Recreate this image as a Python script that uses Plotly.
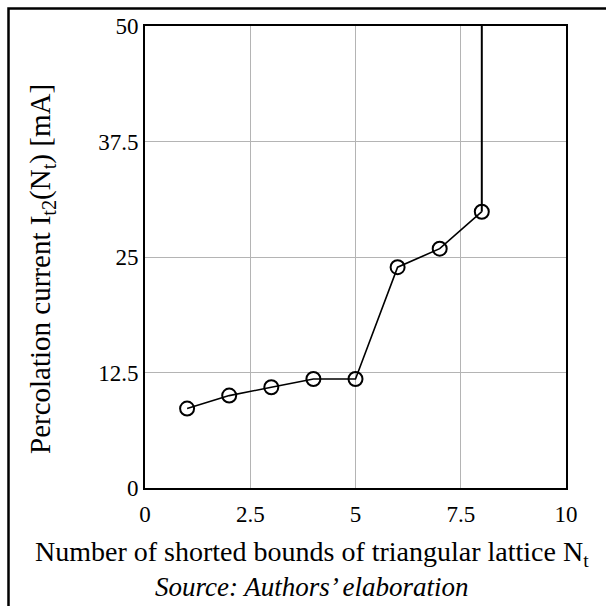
import plotly.graph_objects as go

# Data
n_t = [1, 2, 3, 4, 5, 6, 7, 8]
current_ma = [8.6, 10.0, 10.9, 11.8, 11.8, 23.9, 25.9, 29.9]
# vertical divergence at N_t = 8
asym_x = [8, 8]
asym_y = [29.9, 50]

x_ticks = [0, 2.5, 5, 7.5, 10]
x_tick_labels = ["0", "2.5", "5", "7.5", "10"]
y_ticks = [0, 12.5, 25, 37.5, 50]
y_tick_labels = ["0", "12.5", "25", "37.5", "50"]

FONT = "Liberation Serif"

fig = go.Figure()
fig.add_trace(go.Scatter(x=asym_x, y=asym_y, mode="lines",
                         line=dict(color="black", width=2), showlegend=False, cliponaxis=True))
fig.add_trace(go.Scatter(x=n_t, y=current_ma, mode="lines+markers",
                         line=dict(color="black", width=1.6),
                         marker=dict(symbol="circle-open", size=14, color="black",
                                     line=dict(width=2, color="black")),
                         showlegend=False, cliponaxis=False))

L, R, T, B = 145, 40, 26, 118
W, H = 606, 606
pw, ph = W - L - R, H - T - B

def px_to_paper_x(px):
    return (px - L) / pw

def px_to_paper_y(py):
    return (H - B - py) / ph

fig.update_layout(
    width=W, height=H,
    margin=dict(l=L, r=R, t=T, b=B),
    paper_bgcolor="white", plot_bgcolor="white",
    font=dict(family=FONT, color="black", size=23),
    xaxis=dict(range=[0, 10], tickvals=x_ticks, ticktext=x_tick_labels,
               showgrid=True, gridcolor="#b4b4b4", gridwidth=1.2,
               showline=True, linecolor="black", linewidth=2, mirror=True,
               zeroline=False, ticks="", tickfont=dict(size=23, family=FONT),
               ticklabelstandoff=4),
    yaxis=dict(range=[0, 50], tickvals=y_ticks, ticktext=y_tick_labels,
               showgrid=True, gridcolor="#b4b4b4", gridwidth=1.2,
               showline=True, linecolor="black", linewidth=2, mirror=True,
               zeroline=False, ticks="", tickfont=dict(size=23, family=FONT),
               ticklabelstandoff=0),
    shapes=[dict(type="rect", xref="paper", yref="paper",
                 x0=px_to_paper_x(8.5), x1=px_to_paper_x(640),
                 y0=px_to_paper_y(640), y1=px_to_paper_y(8.5),
                 line=dict(color="black", width=2.5), fillcolor="rgba(0,0,0,0)",
                 layer="above")],
    annotations=[
        dict(text="Number of shorted bounds of triangular lattice N<sub>t</sub>",
             xref="paper", yref="paper", x=px_to_paper_x(312), y=px_to_paper_y(553),
             xanchor="center", yanchor="middle", showarrow=False,
             font=dict(size=28, family=FONT)),
        dict(text="Percolation current I<sub>t2</sub>(N<sub>t</sub>) [mA]",
             xref="paper", yref="paper", x=px_to_paper_x(42), y=px_to_paper_y(269),
             xanchor="center", yanchor="middle", showarrow=False, textangle=-90,
             font=dict(size=29, family=FONT)),
        dict(text="<i>Source: Authors\u2019 elaboration</i>", xref="paper", yref="paper",
             x=px_to_paper_x(311), y=px_to_paper_y(587), xanchor="center", yanchor="middle",
             showarrow=False, font=dict(size=27, family=FONT)),
    ],
)

fig.write_html("out.html")
